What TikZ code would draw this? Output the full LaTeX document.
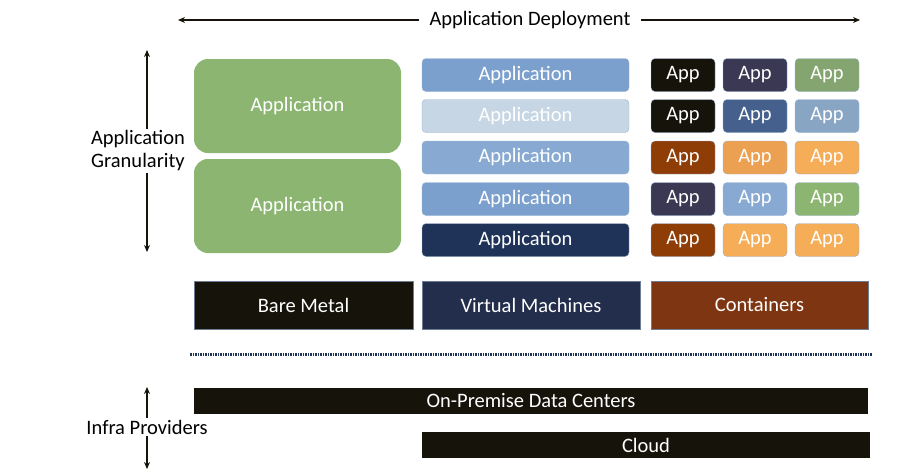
\documentclass[tikz,border=0pt]{standalone}
\usepackage{fontspec}
\setmainfont{Carlito}
\usepackage{tikz}
\usetikzlibrary{arrows.meta, positioning, calc}
\definecolor{metalblack}{RGB}{22, 19, 10}
\definecolor{appgreen}{RGB}{139, 181, 113}
\definecolor{appblue}{RGB}{123, 160, 205}
\definecolor{applight}{RGB}{198, 214, 228}
\definecolor{appnavy}{RGB}{31, 51, 88}
\definecolor{vmnavy}{RGB}{35, 46, 76}
\definecolor{appbrown}{RGB}{143, 61, 6}
\definecolor{apporange}{RGB}{246, 173, 88}
\definecolor{ctbrown}{RGB}{126, 54, 18}
\definecolor{edgeblue}{RGB}{155, 180, 212}
\definecolor{mixnavy}{RGB}{58, 56, 82}
\definecolor{mixblue}{RGB}{70, 96, 142}
\definecolor{mixgray}{RGB}{136, 166, 196}
\definecolor{mixgreen}{RGB}{132, 165, 112}
\definecolor{mixorange}{RGB}{236, 160, 82}

\begin{document}
\begin{tikzpicture}[
    x=1pt, y=-1pt,
    base/.style={text=white, inner sep=0pt, font=\fontsize{20.5}{23}\selectfont},
    bigapp/.style={base, fill=appgreen, rounded corners=14pt, minimum width=207pt, minimum height=94pt},
    vmapp/.style={base, draw=edgeblue, thin, rounded corners=4pt, minimum width=207pt, minimum height=33pt},
    ctapp/.style={base, draw=edgeblue, thin, rounded corners=4pt, minimum width=64pt, minimum height=33pt},
    layer/.style={base, draw=edgeblue!70!black, thin, minimum height=48pt},
    infra/.style={base, fill=metalblack, minimum height=26pt},
    label/.style={font=\fontsize{20.5}{23}\selectfont, align=center, inner sep=2pt},
    arrow/.style={-{Stealth[length=7pt, width=6pt]}, line width=1.4pt, metalblack}
]
    \useasboundingbox (0, 0) rectangle (922, 472);

    % --- HEADER ---
    \node[label, inner xsep=10pt] (deploy) at (530, 20) {Application Deployment};
    \coordinate (deployleft) at (178, 20);
    \coordinate (deployright) at (860, 20);
    \draw[arrow] (deploy.west) -- (deployleft);
    \draw[arrow] (deploy.east) -- (deployright);

    % --- GRANULARITY ---
    \node[label] (gran) at (138, 151) {Application\\Granularity};
    \coordinate (grantop) at (147, 50);
    \coordinate (granbot) at (147, 252);
    \draw[arrow] (gran.north -| grantop) -- (grantop);
    \draw[arrow] (gran.south -| granbot) -- (granbot);

    % --- BARE METAL APPS ---
    \node[bigapp] (bm1) at (297.5, 106) {Application};
    \node[bigapp] (bm2) at (297.5, 206) {Application};

    % --- VM APPS ---
    \node[vmapp, fill=appblue] (vm1) at (525.5, 75) {Application};
    \node[vmapp, fill=applight] (vm2) at (525.5, 116) {Application};
    \node[vmapp, fill=appblue!90!white] (vm3) at (525.5, 157.5) {Application};
    \node[vmapp, fill=appblue] (vm4) at (525.5, 199) {Application};
    \node[vmapp, fill=appnavy] (vm5) at (525.5, 240) {Application};

    % --- CONTAINER APPS ---
    \node[ctapp, fill=metalblack] (ct11) at (683, 75) {App};
    \node[ctapp, fill=mixnavy] (ct12) at (755, 75) {App};
    \node[ctapp, fill=mixgreen] (ct13) at (827, 75) {App};
    \node[ctapp, fill=metalblack] (ct21) at (683, 116) {App};
    \node[ctapp, fill=mixblue] (ct22) at (755, 116) {App};
    \node[ctapp, fill=mixgray] (ct23) at (827, 116) {App};
    \node[ctapp, fill=appbrown] (ct31) at (683, 157.5) {App};
    \node[ctapp, fill=mixorange] (ct32) at (755, 157.5) {App};
    \node[ctapp, fill=apporange] (ct33) at (827, 157.5) {App};
    \node[ctapp, fill=mixnavy] (ct41) at (683, 199) {App};
    \node[ctapp, fill=appblue!90!white] (ct42) at (755, 199) {App};
    \node[ctapp, fill=appgreen] (ct43) at (827, 199) {App};
    \node[ctapp, fill=appbrown] (ct51) at (683, 240) {App};
    \node[ctapp, fill=apporange] (ct52) at (755, 240) {App};
    \node[ctapp, fill=apporange] (ct53) at (827, 240) {App};

    % --- RUNTIME LAYERS ---
    \node[layer, fill=metalblack, minimum width=219pt] (metal) at (303.5, 305) {Bare Metal};
    \node[layer, fill=vmnavy, minimum width=218pt] (vms) at (531, 305) {Virtual Machines};
    \node[layer, fill=ctbrown, minimum width=217pt] (cont) at (759.5, 305) {Containers};

    % --- SEPARATOR ---
    \coordinate (sepleft) at (190, 354.5);
    \coordinate (sepright) at (872, 354.5);
    \draw[appnavy, line width=2.5pt, dash pattern=on 1.5pt off 1pt] (sepleft) -- (sepright);

    % --- INFRA PROVIDERS ---
    \node[infra, minimum width=674pt] (onprem) at (531, 401) {On-Premise Data Centers};
    \node[infra, minimum width=448pt] (cloud) at (646, 445) {Cloud};
    \node[label] (prov) at (147, 427) {Infra Providers};
    \coordinate (provtop) at (147, 387);
    \coordinate (provbot) at (147, 469);
    \draw[arrow] (prov.north -| provtop) -- (provtop);
    \draw[arrow] (prov.south -| provbot) -- (provbot);

\end{tikzpicture}
\end{document}
